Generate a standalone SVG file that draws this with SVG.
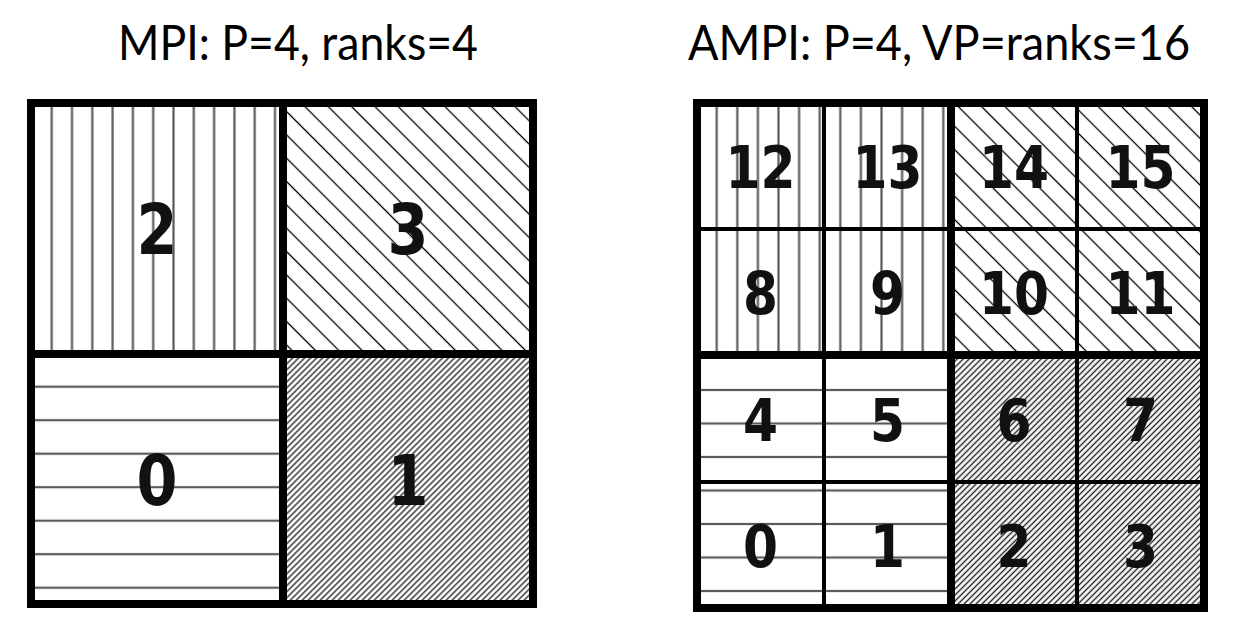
<svg xmlns="http://www.w3.org/2000/svg" width="1233" height="638" viewBox="0 0 1233 638">
  <style>
    .title { font-family: Lato, "Open Sans", "Liberation Sans", sans-serif; font-size: 48px; fill: #000; }
    .big { font-family: "DejaVu Sans", "Liberation Sans", sans-serif; font-weight: bold; font-size: 70px; fill: #111; text-anchor: middle; }
    .num { font-family: "DejaVu Sans", "Liberation Sans", sans-serif; font-weight: bold; font-size: 59px; fill: #111; text-anchor: middle; }
    .thick { stroke: #000; stroke-width: 8; fill: none; stroke-linecap: square; }
    .thin { stroke: #000; stroke-width: 4; fill: none; }
  </style>
  <defs>
    <pattern id="vertL" patternUnits="userSpaceOnUse" x="41.55" y="0" width="20.3" height="10">
      <rect x="9.05" y="0" width="2.2" height="10" fill="#5a5a5a"/>
    </pattern>
    <pattern id="vertR" patternUnits="userSpaceOnUse" x="706.4" y="0" width="20.6" height="10">
      <rect x="9.2" y="0" width="2.2" height="10" fill="#5a5a5a"/>
    </pattern>
    <pattern id="horzL" patternUnits="userSpaceOnUse" x="0" y="369.95" width="10" height="33.5">
      <rect x="0" y="15.65" width="10" height="2.2" fill="#5a5a5a"/>
    </pattern>
    <pattern id="horzR" patternUnits="userSpaceOnUse" x="0" y="373.25" width="10" height="33.5">
      <rect x="0" y="15.65" width="10" height="2.2" fill="#5a5a5a"/>
    </pattern>
    <pattern id="diagBack" patternUnits="userSpaceOnUse" width="16.5" height="16.5" patternTransform="rotate(-45)">
      <rect x="7.6" y="0" width="1.3" height="16.5" fill="#000"/>
    </pattern>
    <pattern id="diagFwd" patternUnits="userSpaceOnUse" width="4.24" height="4.24" patternTransform="rotate(45)">
      <rect x="1.4" y="0" width="1.45" height="4.24" fill="#2a2a2a"/>
    </pattern>
  </defs>
  <rect width="1233" height="638" fill="#fff"/>

  <text class="title" x="118" y="60" textLength="360" lengthAdjust="spacingAndGlyphs">MPI: P=4, ranks=4</text>
  <text class="title" x="688" y="60" textLength="502" lengthAdjust="spacingAndGlyphs">AMPI: P=4, VP=ranks=16</text>

  <!-- MPI grid -->
  <g id="mpi-rank-2"><rect x="31" y="103" width="252" height="251" fill="url(#vertL)"/><text class="big" x="157" y="254" textLength="41" lengthAdjust="spacingAndGlyphs">2</text></g>
  <g id="mpi-rank-3"><rect x="283" y="103" width="250" height="251" fill="url(#diagBack)"/><text class="big" x="408" y="254" textLength="41" lengthAdjust="spacingAndGlyphs">3</text></g>
  <g id="mpi-rank-0"><rect x="31" y="354" width="252" height="250" fill="url(#horzL)"/><text class="big" x="157" y="505" textLength="41" lengthAdjust="spacingAndGlyphs">0</text></g>
  <g id="mpi-rank-1"><rect x="283" y="354" width="250" height="250" fill="url(#diagFwd)"/><text class="big" x="408" y="505" textLength="41" lengthAdjust="spacingAndGlyphs">1</text></g>

  <!-- AMPI grid -->
  <g id="ampi-rank-12"><rect x="697" y="103" width="127" height="126" fill="url(#vertR)"/><text class="num" x="760.5" y="187.5" textLength="70" lengthAdjust="spacingAndGlyphs">12</text></g>
  <g id="ampi-rank-13"><rect x="824" y="103" width="127" height="126" fill="url(#vertR)"/><text class="num" x="887.5" y="187.5" textLength="70" lengthAdjust="spacingAndGlyphs">13</text></g>
  <g id="ampi-rank-14"><rect x="951" y="103" width="126" height="126" fill="url(#diagBack)"/><text class="num" x="1014" y="187.5" textLength="70" lengthAdjust="spacingAndGlyphs">14</text></g>
  <g id="ampi-rank-15"><rect x="1077" y="103" width="127" height="126" fill="url(#diagBack)"/><text class="num" x="1140.5" y="187.5" textLength="70" lengthAdjust="spacingAndGlyphs">15</text></g>

  <g id="ampi-rank-8"><rect x="697" y="229" width="127" height="126" fill="url(#vertR)"/><text class="num" x="760.5" y="313.5" textLength="35" lengthAdjust="spacingAndGlyphs">8</text></g>
  <g id="ampi-rank-9"><rect x="824" y="229" width="127" height="126" fill="url(#vertR)"/><text class="num" x="887.5" y="313.5" textLength="35" lengthAdjust="spacingAndGlyphs">9</text></g>
  <g id="ampi-rank-10"><rect x="951" y="229" width="126" height="126" fill="url(#diagBack)"/><text class="num" x="1014" y="313.5" textLength="70" lengthAdjust="spacingAndGlyphs">10</text></g>
  <g id="ampi-rank-11"><rect x="1077" y="229" width="127" height="126" fill="url(#diagBack)"/><text class="num" x="1140.5" y="313.5" textLength="70" lengthAdjust="spacingAndGlyphs">11</text></g>

  <g id="ampi-rank-4"><rect x="697" y="355" width="127" height="127" fill="url(#horzR)"/><text class="num" x="760.5" y="441" textLength="35" lengthAdjust="spacingAndGlyphs">4</text></g>
  <g id="ampi-rank-5"><rect x="824" y="355" width="127" height="127" fill="url(#horzR)"/><text class="num" x="887.5" y="441" textLength="35" lengthAdjust="spacingAndGlyphs">5</text></g>
  <g id="ampi-rank-6"><rect x="951" y="355" width="126" height="127" fill="url(#diagFwd)"/><text class="num" x="1014" y="441" textLength="35" lengthAdjust="spacingAndGlyphs">6</text></g>
  <g id="ampi-rank-7"><rect x="1077" y="355" width="127" height="127" fill="url(#diagFwd)"/><text class="num" x="1140.5" y="441" textLength="35" lengthAdjust="spacingAndGlyphs">7</text></g>

  <g id="ampi-rank-0"><rect x="697" y="482" width="127" height="126" fill="url(#horzR)"/><text class="num" x="760.5" y="567" textLength="35" lengthAdjust="spacingAndGlyphs">0</text></g>
  <g id="ampi-rank-1"><rect x="824" y="482" width="127" height="126" fill="url(#horzR)"/><text class="num" x="887.5" y="567" textLength="35" lengthAdjust="spacingAndGlyphs">1</text></g>
  <g id="ampi-rank-2"><rect x="951" y="482" width="126" height="126" fill="url(#diagFwd)"/><text class="num" x="1014" y="567" textLength="35" lengthAdjust="spacingAndGlyphs">2</text></g>
  <g id="ampi-rank-3"><rect x="1077" y="482" width="127" height="126" fill="url(#diagFwd)"/><text class="num" x="1140.5" y="567" textLength="35" lengthAdjust="spacingAndGlyphs">3</text></g>

  <g id="grid-lines">
    <line class="thin" x1="824" y1="103" x2="824" y2="608"/>
    <line class="thin" x1="1077" y1="103" x2="1077" y2="608"/>
    <line class="thin" x1="697" y1="229" x2="1204" y2="229"/>
    <line class="thin" x1="697" y1="482" x2="1204" y2="482"/>
    <rect class="thick" x="31" y="103" width="502" height="501"/>
    <line class="thick" x1="283" y1="103" x2="283" y2="604"/>
    <line class="thick" x1="31" y1="354" x2="533" y2="354"/>
    <rect class="thick" x="697" y="103" width="507" height="505"/>
    <line class="thick" x1="951" y1="103" x2="951" y2="608"/>
    <line class="thick" x1="697" y1="355" x2="1204" y2="355"/>
  </g>
</svg>
